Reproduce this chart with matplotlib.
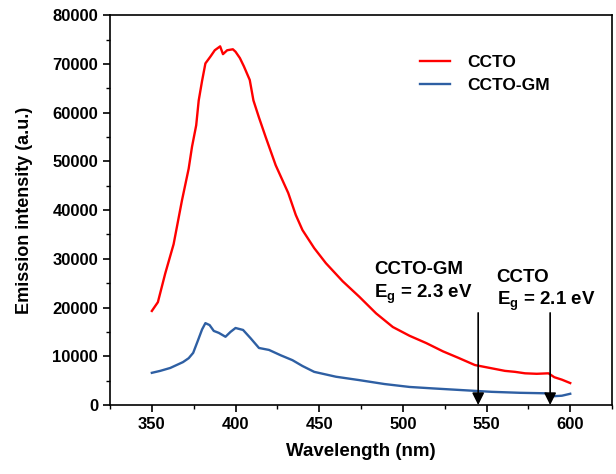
import matplotlib
matplotlib.use('Agg')
import matplotlib.pyplot as plt
from matplotlib.ticker import MultipleLocator

plt.rcParams['font.family'] = ['Liberation Sans', 'DejaVu Sans']
plt.rcParams['font.weight'] = 'bold'
plt.rcParams['mathtext.fontset'] = 'custom'
plt.rcParams['mathtext.rm'] = 'Liberation Sans:bold'
plt.rcParams['mathtext.it'] = 'Liberation Sans:bold'

# PL emission spectra
wl_ccto = [350, 353.6, 358, 363, 368, 372, 374, 376.5, 378, 380, 382, 385, 387.6, 390.8,
           392.5, 395, 398.4, 400, 402.6, 405, 408.5, 410.7, 414, 418, 424, 431.5, 436,
           440, 447, 454, 464, 474, 484, 494, 504, 514, 524, 533, 543, 552, 561, 567,
           573, 580, 587, 590.5, 595, 600]
int_ccto = [19300, 21100, 27000, 33000, 42000, 48500, 53000, 57400, 62500, 66500, 70100,
            71500, 72800, 73600, 72000, 72800, 73000, 72500, 71200, 69500, 66700, 62500,
            59000, 55000, 49200, 43500, 39000, 35900, 32200, 29100, 25400, 22200, 18800,
            16000, 14200, 12700, 11000, 9700, 8200, 7600, 7000, 6800, 6500, 6400, 6500,
            5700, 5200, 4500]

wl_gm = [350, 355, 361, 368.6, 372, 374.7, 377.6, 380, 382, 384.5, 387, 390, 394, 397, 400,
         404.5, 409, 414, 420, 427, 434, 440, 447, 460, 474, 489, 504, 518, 533, 553,
         570, 585, 590, 595, 600]
int_gm = [6600, 7000, 7600, 8800, 9600, 10700, 13300, 15500, 16800, 16400, 15200, 14800,
          14000, 15000, 15800, 15400, 13700, 11700, 11300, 10200, 9200, 8000, 6800, 5800,
          5100, 4300, 3700, 3400, 3100, 2700, 2500, 2400, 1800, 1900, 2300]

labels = ['CCTO', 'CCTO-GM']
colors = ['#ff0000', '#2e5fa3']

# band gap markers
eg_wl = [545, 588]
eg_text = ['CCTO-GM\nE$_\\mathrm{g}$ = 2.3 eV', 'CCTO\nE$_\\mathrm{g}$ = 2.1 eV']
eg_text_x = [483, 556]
eg_text_y = [29600, 28000]
arrow_top = 18900

fig = plt.figure(figsize=(6.16, 4.74), dpi=100)
ax = fig.add_axes([0.1786, 0.1456, 0.815, 0.8224])

ax.plot(wl_ccto, int_ccto, color=colors[0], lw=1.7, label=labels[0])
ax.plot(wl_gm, int_gm, color=colors[1], lw=1.7, label=labels[1])

for x, t, tx, ty in zip(eg_wl, eg_text, eg_text_x, eg_text_y):
    ax.annotate('', xy=(x, 0), xytext=(x, arrow_top),
                arrowprops=dict(arrowstyle='-|>', color='black', lw=1.2,
                                mutation_scale=18, shrinkA=0, shrinkB=0))
    ax.text(tx, ty, t, fontsize=13.5, fontweight='bold', va='top', ha='left',
            linespacing=1.3)

ax.set_xlim(325, 625)
ax.set_ylim(0, 80000)
ax.xaxis.set_major_locator(MultipleLocator(50))
ax.xaxis.set_minor_locator(MultipleLocator(25))
ax.yaxis.set_major_locator(MultipleLocator(10000))
ax.yaxis.set_minor_locator(MultipleLocator(5000))
ax.tick_params(which='major', direction='out', length=5, width=1.2, labelsize=12)
ax.tick_params(which='minor', direction='out', length=3, width=1)
for s in ax.spines.values():
    s.set_linewidth(1.2)

ax.set_xlabel('Wavelength (nm)', fontsize=13.5, fontweight='bold', labelpad=8)
ax.set_ylabel('Emission intensity (a.u.)', fontsize=13, fontweight='bold', labelpad=14)

ax.legend(loc='upper left', bbox_to_anchor=(0.617, 0.897), frameon=False,
          fontsize=12.5, handlelength=1.75, handletextpad=1.0, labelspacing=0.45,
          borderpad=0, borderaxespad=0)

fig.savefig('out.png', dpi=100)
